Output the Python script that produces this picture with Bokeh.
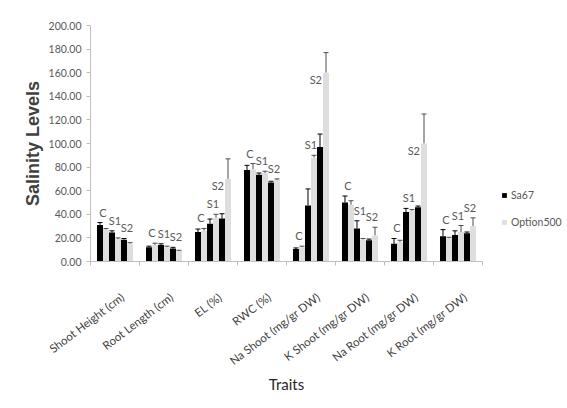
import numpy as np
from bokeh.plotting import figure
from bokeh.models import (ColumnDataSource, Range1d, FixedTicker, NumeralTickFormatter,
                          Whisker, TeeHead, Legend, LegendItem)
from bokeh.core.properties import value
from bokeh.embed import file_html
from bokeh.resources import INLINE

# ---------------- data ----------------
traits = ["Shoot Height (cm)", "Root Length (cm)", "EL (%)", "RWC (%)",
          "Na Shoot (mg/gr DW)", "K Shoot (mg/gr DW)", "Na Root (mg/gr DW)", "K Root (mg/gr DW)"]
levels = ["C", "S1", "S2"]
series_names = ["Sa67", "Option500"]

sa67_c = [31.0, 12.0, 25.0, 77.5, 10.5, 50.0, 15.0, 21.5]
sa67_s1 = [24.5, 14.0, 32.0, 73.5, 47.5, 28.0, 42.0, 22.5]
sa67_s2 = [18.5, 11.0, 36.5, 67.0, 97.0, 18.0, 46.0, 24.0]
opt_c = [27.0, 14.0, 26.0, 78.0, 12.0, 48.0, 16.0, 19.5]
opt_s1 = [19.0, 12.0, 37.0, 75.0, 88.0, 18.5, 43.0, 25.0]
opt_s2 = [15.0, 9.0, 70.0, 69.0, 160.0, 22.0, 100.0, 30.0]

sa67_err_c = [2.0, 1.0, 2.5, 4.0, 1.0, 5.5, 4.5, 5.5]
sa67_err_s1 = [1.5, 1.0, 4.0, 1.5, 14.0, 6.5, 3.0, 3.5]
sa67_err_s2 = [1.0, 1.0, 4.0, 1.0, 11.0, 1.0, 1.0, 1.0]
opt_err_c = [1.0, 1.5, 2.0, 5.0, 1.0, 3.5, 2.0, 1.0]
opt_err_s1 = [1.0, 1.0, 3.0, 1.5, 2.0, 1.0, 1.0, 5.5]
opt_err_s2 = [1.0, 0.5, 17.0, 1.0, 17.0, 7.0, 25.0, 7.0]

y_ticks = [0, 20, 40, 60, 80, 100, 120, 140, 160, 180, 200]

series_vals = [np.array([sa67_c, sa67_s1, sa67_s2]), np.array([opt_c, opt_s1, opt_s2])]
series_errs = [np.array([sa67_err_c, sa67_err_s1, sa67_err_s2]),
               np.array([opt_err_c, opt_err_s1, opt_err_s2])]
bar_colors = ["#000000", "#dedede"]
whisker_colors = ["#000000", "#4d4d4d"]

n = len(traits)
bw = 0.1225  # bar width in category units
FW, FH = 392, 236

p = figure(frame_width=FW, frame_height=FH, x_range=Range1d(-0.5, n - 0.5), y_range=Range1d(0, 200),
           output_backend="svg", toolbar_location=None,
           min_border_left=90, min_border_right=70, min_border_top=25, min_border_bottom=139)
p.outline_line_color = None
p.xgrid.grid_line_color = None
p.ygrid.grid_line_color = None
p.background_fill_color = "white"

renderers = []
for s in range(2):
    xs, tops, ups = [], [], []
    for j in range(len(levels)):
        for i in range(n):
            xs.append(i + (j - 1) * 2 * bw + (s - 0.5) * bw)
            tops.append(series_vals[s][j, i])
            ups.append(series_vals[s][j, i] + series_errs[s][j, i])
    src = ColumnDataSource(dict(x=xs, top=tops, upper=ups))
    r = p.vbar(x="x", top="top", bottom=0, width=bw, source=src,
               fill_color=bar_colors[s], line_color=None)
    renderers.append(r)
    w = Whisker(base="x", lower="top", upper="upper", source=src,
                upper_head=TeeHead(size=5, line_color=whisker_colors[s], line_width=1),
                lower_head=None, line_color=whisker_colors[s], line_width=1)
    p.add_layout(w)

# level labels (C, S1, S2)
above = dict(x=[], y=[], t=[])
beside = dict(x=[], y=[], t=[])
for i in range(n):
    group_max = max(series_vals[0][:, i].max(), series_vals[1][:, i].max())
    for j, lev in enumerate(levels):
        center = i + (j - 1) * 2 * bw
        sa, op = series_vals[0][j, i], series_vals[1][j, i]
        if op == group_max and op > 1.5 * sa:
            beside["x"].append(center)
            beside["y"].append(op)
            beside["t"].append(lev)
        else:
            above["x"].append(center)
            above["y"].append(max(sa + series_errs[0][j, i], op + series_errs[1][j, i]))
            above["t"].append(lev)

p.text(x="x", y="y", text="t", source=ColumnDataSource(above), text_align="center",
       text_baseline="bottom", y_offset=-4, text_font=value("Lato"), text_font_size="11px",
       text_color="#595959")
p.text(x="x", y="y", text="t", source=ColumnDataSource(beside), text_align="right",
       text_baseline="top", x_offset=-1, text_font=value("Lato"), text_font_size="11px",
       text_color="#595959")

# y axis
ya = p.yaxis[0]
ya.ticker = FixedTicker(ticks=y_ticks)
ya.formatter = NumeralTickFormatter(format="0.00")
ya.axis_line_color = "#bfbfbf"
ya.major_tick_line_color = "#bfbfbf"
ya.major_tick_out = 4
ya.major_tick_in = 0
ya.minor_tick_line_color = None
ya.major_label_text_font = "Lato"
ya.major_label_text_font_size = "10.5px"
ya.major_label_text_color = "#595959"
ya.major_label_standoff = 5
ya.axis_label = "Salinity Levels"
ya.axis_label_text_font = "Liberation Sans"
ya.axis_label_text_font_style = "bold"
ya.axis_label_text_font_size = "18px"
ya.axis_label_text_color = "#404040"
ya.axis_label_standoff = 3

# x axis (category labels shifted slightly right of the group centres, as in the reference)
label_shift = 0.15
label_pos = [i + label_shift for i in range(n)]
xa = p.xaxis[0]
xa.ticker = FixedTicker(ticks=label_pos, minor_ticks=[i - 0.5 for i in range(n + 1)])
xa.major_label_overrides = {pos: t for pos, t in zip(label_pos, traits)}
xa.axis_line_color = "#bfbfbf"
xa.major_tick_line_color = None
xa.minor_tick_line_color = "#bfbfbf"
xa.minor_tick_out = 4
xa.minor_tick_in = 0
xa.major_label_orientation = 0.65
xa.major_label_standoff = 28
xa.major_label_text_font = "Lato"
xa.major_label_text_font_size = "11.5px"
xa.major_label_text_color = "#404040"
xa.axis_label = "Traits"
xa.axis_label_text_font = "Lato"
xa.axis_label_text_font_style = "normal"
xa.axis_label_text_font_size = "15px"
xa.axis_label_text_color = "#262626"
xa.axis_label_standoff = 0

legend = Legend(items=[LegendItem(label=series_names[0], renderers=[renderers[0]]),
                       LegendItem(label=series_names[1], renderers=[renderers[1]])],
                location=(19, 32), glyph_width=6, glyph_height=6, label_standoff=4,
                label_height=14, spacing=13, padding=0, margin=0,
                border_line_color=None, background_fill_alpha=0,
                label_text_font="Lato", label_text_font_size="10.5px",
                label_text_color="#595959")
p.add_layout(legend, "right")

open("out.html", "w").write(file_html(p, INLINE))
